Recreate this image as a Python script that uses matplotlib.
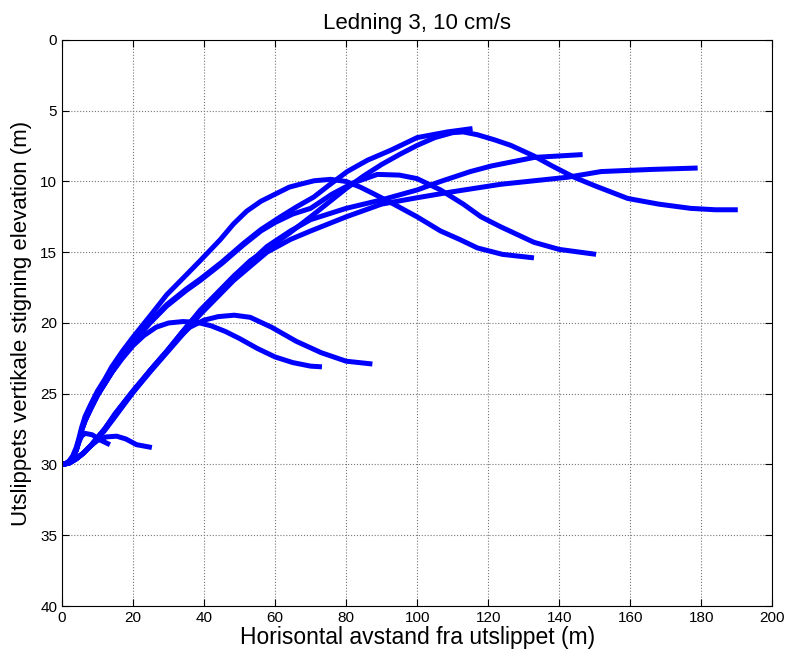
import matplotlib
matplotlib.use("Agg")
import matplotlib.pyplot as plt

plt.rcParams['font.family'] = ['Liberation Sans', 'DejaVu Sans']

# banene (x = horisontal avstand, y = dybde under overflaten), lest av figuren
x1 = [0, 1, 2, 3, 4, 4.8, 5.5, 6.5, 8.5, 11, 13.5]
y1 = [30, 29.95, 29.8, 29.5, 29.0, 28.4, 28.0, 27.8, 27.9, 28.3, 28.6]

x2 = [0, 2, 4, 6, 8, 10, 12.5, 15.4, 18, 21, 25.3]
y2 = [30, 29.9, 29.6, 29.2, 28.7, 28.3, 28.05, 28.0, 28.2, 28.6, 28.8]

x3 = [0, 1, 2, 3, 4, 4.8, 5.5, 6.5, 8, 10, 12, 14, 17, 20, 23, 26.5, 30, 34, 38, 42, 46,
      50, 55, 60, 65, 70, 73.2]
y3 = [30, 29.95, 29.8, 29.5, 29.0, 28.3, 27.6, 26.9, 26.1, 25.1, 24.3, 23.5, 22.5, 21.6,
      20.9, 20.3, 20.0, 19.9, 19.95, 20.2, 20.6, 21.1, 21.8, 22.4, 22.8, 23.05, 23.1]

x4 = [0, 2, 4, 6, 8, 10, 12, 15, 20, 25, 29.5, 33, 36, 40, 44, 48.5, 53, 59, 66, 73,
      80, 87.4]
y4 = [30, 29.9, 29.6, 29.2, 28.7, 28.2, 27.6, 26.6, 24.9, 23.3, 22.0, 21.0, 20.3, 19.8,
      19.55, 19.45, 19.6, 20.3, 21.3, 22.1, 22.7, 22.9]

x5 = [0, 1, 2, 3, 4, 4.8, 5.5, 6.5, 8, 10, 12, 14, 17, 20, 24.8, 29.5, 35, 38.9, 44.6,
      48.3, 52, 56, 60, 64, 67, 71, 75.6, 80, 84, 88, 93.4, 100, 106.6, 112, 117, 124,
      132.9]
y5 = [30, 29.95, 29.75, 29.4, 28.8, 28.1, 27.4, 26.6, 25.8, 24.8, 24.0, 23.1, 22.0, 21.0,
      19.5, 18.0, 16.6, 15.6, 14.1, 13.0, 12.1, 11.4, 10.9, 10.4, 10.2, 9.95, 9.85, 10.0,
      10.4, 10.9, 11.6, 12.5, 13.5, 14.1, 14.7, 15.15, 15.4]

x6 = [0, 1, 2, 3, 4, 4.8, 5.5, 6.5, 8, 10, 12, 14, 17, 20, 24.8, 29.5, 35, 38.9, 45, 51,
      56, 60, 65, 70, 76, 82, 88.8, 95, 100, 106.6, 113, 118, 123.5, 132.9, 140, 150.4]
y6 = [30, 29.95, 29.8, 29.5, 29.0, 28.3, 27.6, 26.9, 26.1, 25.1, 24.3, 23.5, 22.4, 21.4,
      20.0, 18.8, 17.7, 17.0, 15.8, 14.5, 13.5, 12.9, 12.3, 11.9, 10.9, 10.1, 9.5, 9.55,
      9.8, 10.6, 11.6, 12.5, 13.2, 14.3, 14.8, 15.15]

x7 = [0, 2, 4, 6, 8, 10, 12, 15, 20, 25, 29.5, 34, 38.9, 44, 48.3, 53, 57.7, 64.3, 70,
      75, 80, 85, 90, 95, 100, 105, 110, 113, 117, 121.7, 126.4, 132.9, 138, 144.2, 150,
      159.3, 168, 177, 184, 190.3]
y7 = [30, 29.9, 29.6, 29.2, 28.7, 28.1, 27.5, 26.4, 24.8, 23.3, 22.0, 20.6, 19.1, 17.8,
      16.7, 15.6, 14.8, 13.6, 12.5, 11.5, 10.5, 9.6, 8.8, 8.1, 7.45, 6.9, 6.55, 6.5, 6.7,
      7.05, 7.45, 8.2, 8.9, 9.7, 10.3, 11.2, 11.6, 11.9, 12.0, 12.0]

x8 = [0, 1, 2, 3, 4, 4.8, 5.5, 6.5, 8, 10, 12, 14, 17, 20, 24.8, 29.5, 35, 38.9, 45, 51,
      56, 61.5, 66, 70.9, 75, 80.3, 86, 92.5, 100, 108.5, 115.6]
y8 = [30, 29.95, 29.8, 29.5, 29.0, 28.3, 27.6, 26.9, 26.1, 25.1, 24.3, 23.5, 22.4, 21.3,
      19.9, 18.7, 17.6, 16.9, 15.7, 14.4, 13.4, 12.5, 11.8, 11.1, 10.3, 9.3, 8.5, 7.8,
      6.9, 6.5, 6.26]

x9 = [0, 2, 4, 6, 8, 10, 12, 15, 20, 25, 29.5, 34, 38.9, 44, 48.3, 53, 57.7, 64.3, 70,
      80, 90, 100, 106.6, 115, 121, 133, 146.6]
y9 = [30, 29.9, 29.6, 29.2, 28.7, 28.1, 27.5, 26.4, 24.8, 23.3, 22.0, 20.6, 19.2, 17.9,
      16.8, 15.7, 14.6, 13.5, 12.7, 11.9, 11.3, 10.6, 10.0, 9.3, 8.9, 8.3, 8.1]

x10 = [0, 2, 4, 6, 8, 10, 12, 15, 20, 25, 29.5, 34, 38.9, 44, 48.3, 53, 57.7, 64.3, 70,
       80, 90, 100, 109.4, 123.5, 142.4, 151.8, 165.9, 179]
y10 = [30, 29.9, 29.6, 29.2, 28.7, 28.1, 27.5, 26.5, 24.9, 23.4, 22.1, 20.8, 19.4, 18.1,
       17.0, 16.0, 15.0, 14.1, 13.5, 12.5, 11.6, 11.15, 10.75, 10.2, 9.7, 9.3, 9.15, 9.05]

baner = [(x1, y1), (x2, y2), (x3, y3), (x4, y4), (x5, y5),
         (x6, y6), (x7, y7), (x8, y8), (x9, y9), (x10, y10)]

fig = plt.figure(figsize=(7.88, 6.55), dpi=100)
ax = fig.add_axes([0.0787, 0.0748, 0.9013, 0.8642])
for bx, by in baner:
    ax.plot(bx, by, color=(0, 0, 1), lw=3.6, solid_capstyle='butt', solid_joinstyle='round')

ax.set_xlim(0, 200)
ax.set_ylim(40, 0)
ax.set_xticks(range(0, 201, 20))
ax.set_yticks(range(0, 41, 5))
ax.grid(True, linestyle=':', color='#777777', linewidth=0.8)
ax.tick_params(direction='in', top=True, right=True, labelsize=11, length=5)
ax.set_xlabel("Horisontal avstand fra utslippet (m)", fontsize=16.5, labelpad=1)
ax.set_ylabel("Utslippets vertikale stigning elevation (m)", fontsize=16, labelpad=6)
ax.set_title("Ledning 3, 10 cm/s", fontsize=16, pad=8)

fig.savefig("out.png", dpi=100)
